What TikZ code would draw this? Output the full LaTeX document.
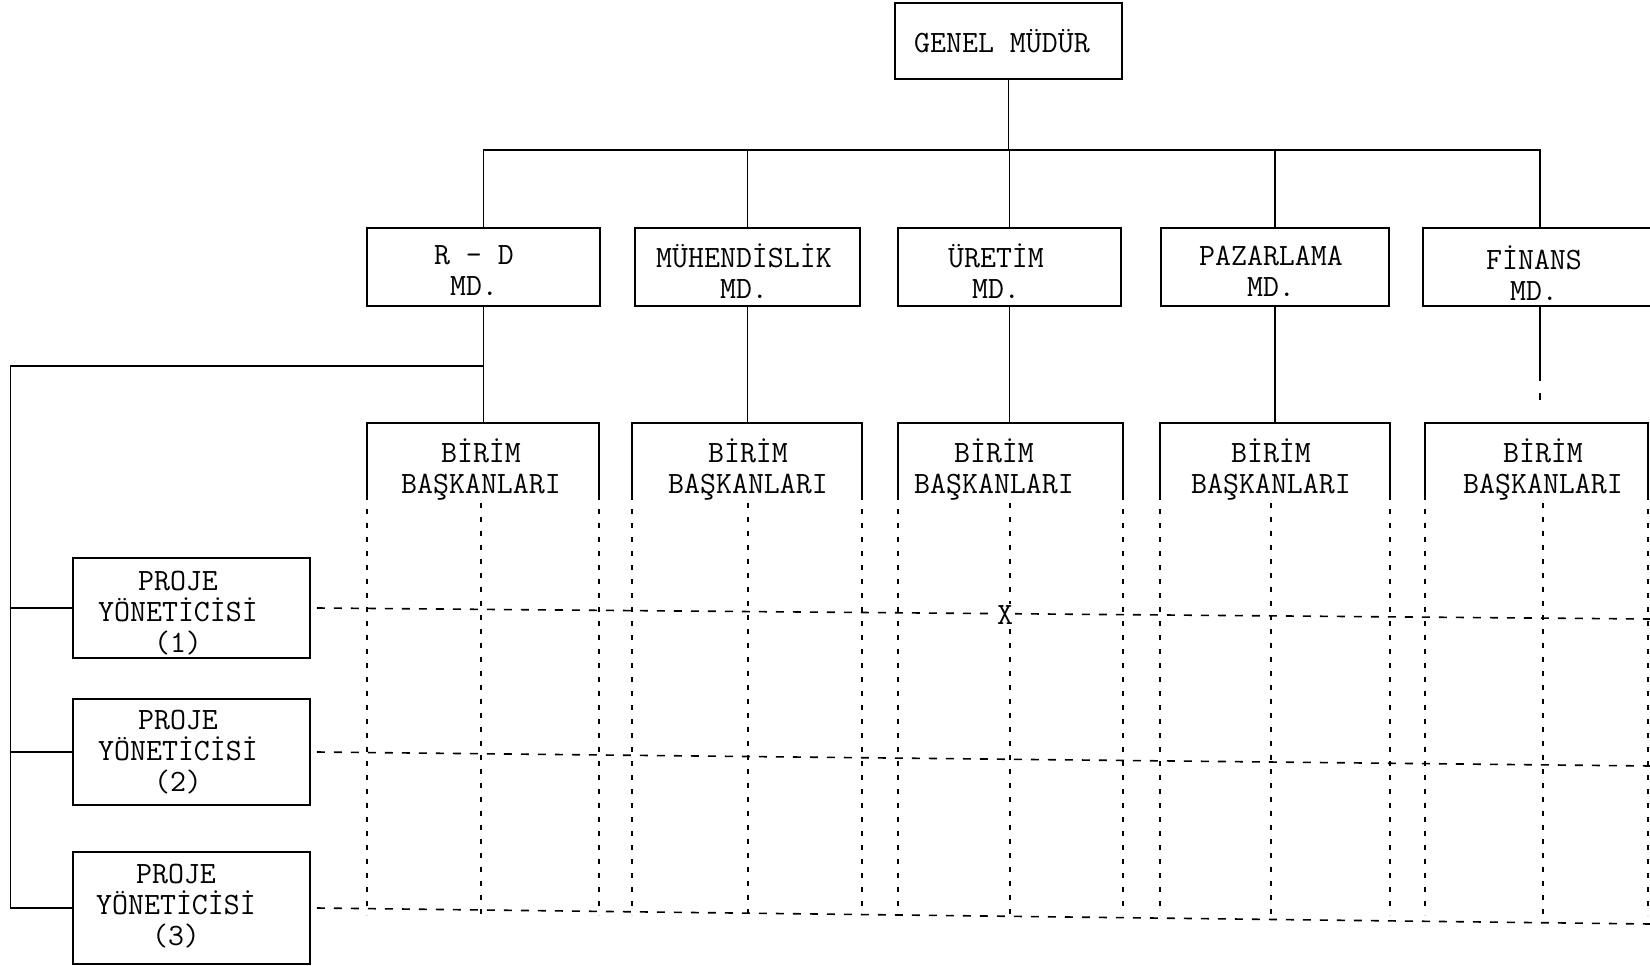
\documentclass[tikz,border=0pt]{standalone}
\usepackage{fontspec}
\newcommand\lblfont{\ttfamily\fontsize{31}{31}\selectfont}
\tikzset{
  box/.style={draw, line width=1.8pt, inner sep=0pt, align=center, font=\lblfont},
  txt/.style={inner sep=0pt, align=center, font=\lblfont},
  solidln/.style={line width=1.8pt},
  hdash/.style={line width=1.6pt, dash pattern=on 8pt off 9pt},
  vdash/.style={line width=1.6pt, dash pattern=on 5pt off 9pt},
}
\begin{document}
\begin{tikzpicture}[x=1pt,y=-1pt]
\useasboundingbox (0,0) rectangle (1650,966);
% top
\node[box, minimum width=227pt, minimum height=76pt] (gm) at (1008.5,41) {};
\node[txt] (gmt) at (1002,41) {GENEL MÜDÜR};
% managers
\node[box, minimum width=233pt, minimum height=78pt] (rd) at (483.5,267) {};
\node[box, minimum width=225pt, minimum height=78pt] (mh) at (747.5,267) {};
\node[box, minimum width=223pt, minimum height=78pt] (ur) at (1009.5,267) {};
\node[box, minimum width=228pt, minimum height=78pt] (pz) at (1275,267) {};
\node[box, minimum width=234pt, minimum height=78pt] (fn) at (1540,267) {};
\node[txt] (rdt) at (474,271) {R - D\\MD.};
\node[txt] (mht) at (744,271) {MÜHENDİSLİK\\MD.};
\node[txt] (urt) at (996,271) {ÜRETİM\\MD.};
\node[txt] (pzt) at (1271,271) {PAZARLAMA\\MD.};
\node[txt] (fnt) at (1534,273) {FİNANS\\MD.};
% bar
\coordinate (bar) at (0,150);
\draw[solidln] (rd.north) |- (fn.north |- bar) -- (fn.north);
\draw[solidln] (gm.south) -- (gm.south |- bar);
\draw[solidln] (mh.north) -- (mh.north |- bar);
\draw[solidln] (ur.north) -- (ur.north |- bar);
\draw[solidln] (pz.north) -- (pz.north |- bar);
% birim boxes
\foreach \n/\l/\r/\c/\t in {a/367/599/481/481, b/632/862/748/748, c/898/1123/1010/994, d/1160/1390/1271/1271, e/1425/1648/1543/1543}{
  \coordinate (\n tl) at (\l,423);
  \coordinate (\n tr) at (\r,423);
  \coordinate (\n sl) at (\l,495);
  \coordinate (\n sr) at (\r,495);
  \coordinate (\n bl) at (\l,915);
  \coordinate (\n br) at (\r,915);
  \coordinate (\n mt) at (\c,503);
  \coordinate (\n mb) at (\c,915);
  \draw[solidln] (\n sl) -- (\n tl) -- (\n tr) -- (\n sr);
  \draw[vdash] (\n sl) -- (\n bl);
  \draw[vdash] (\n sr) -- (\n br);
  \draw[vdash] (\n mt) -- (\n mb);
  \node[txt] (\n txt) at (\t,470) {BİRİM\\BAŞKANLARI};
}
% drops to birim
\draw[solidln] (rd.south) -- (rd.south |- atl);
\draw[solidln] (mh.south) -- (mh.south |- btl);
\draw[solidln] (ur.south) -- (ur.south |- ctl);
\draw[solidln] (pz.south) -- (pz.south |- dtl);
\coordinate (fnend) at (1540,381);
\coordinate (fnt1) at (1540,393);
\coordinate (fnt2) at (1540,400);
\draw[solidln] (fn.south) -- (fnend);
\draw[solidln] (fnt1) -- (fnt2);
% project managers
\node[box, minimum width=237pt, minimum height=100pt] (p1) at (191.5,608) {};
\node[box, minimum width=237pt, minimum height=106pt] (p2) at (191.5,752) {};
\node[box, minimum width=237pt, minimum height=112pt] (p3) at (191.5,908) {};
\node[txt] (p1t) at (178,613) {PROJE\\YÖNETİCİSİ\\(1)};
\node[txt] (p2t) at (178,752) {PROJE\\YÖNETİCİSİ\\(2)};
\node[txt] (p3t) at (176,906) {PROJE\\YÖNETİCİSİ\\(3)};
\coordinate (lt) at (10.5,366);
\draw[solidln] (rd.south |- lt) -- (lt) |- (p3.west);
\draw[solidln] (p1.west) -- (p1.west -| lt);
\draw[solidln] (p2.west) -- (p2.west -| lt);
% dashed project lines
\coordinate (e1) at (1650,619);
\coordinate (e2) at (1650,766);
\coordinate (e3) at (1650,924);
\draw[hdash] ([xshift=6pt]p1.east) -- (e1);
\draw[hdash] ([xshift=6pt]p2.east) -- (e2);
\draw[hdash] ([xshift=6pt]p3.east) -- (e3);
\node[txt, fill=white, inner sep=2pt] (x) at (1005,615) {X};
\end{tikzpicture}
\end{document}
